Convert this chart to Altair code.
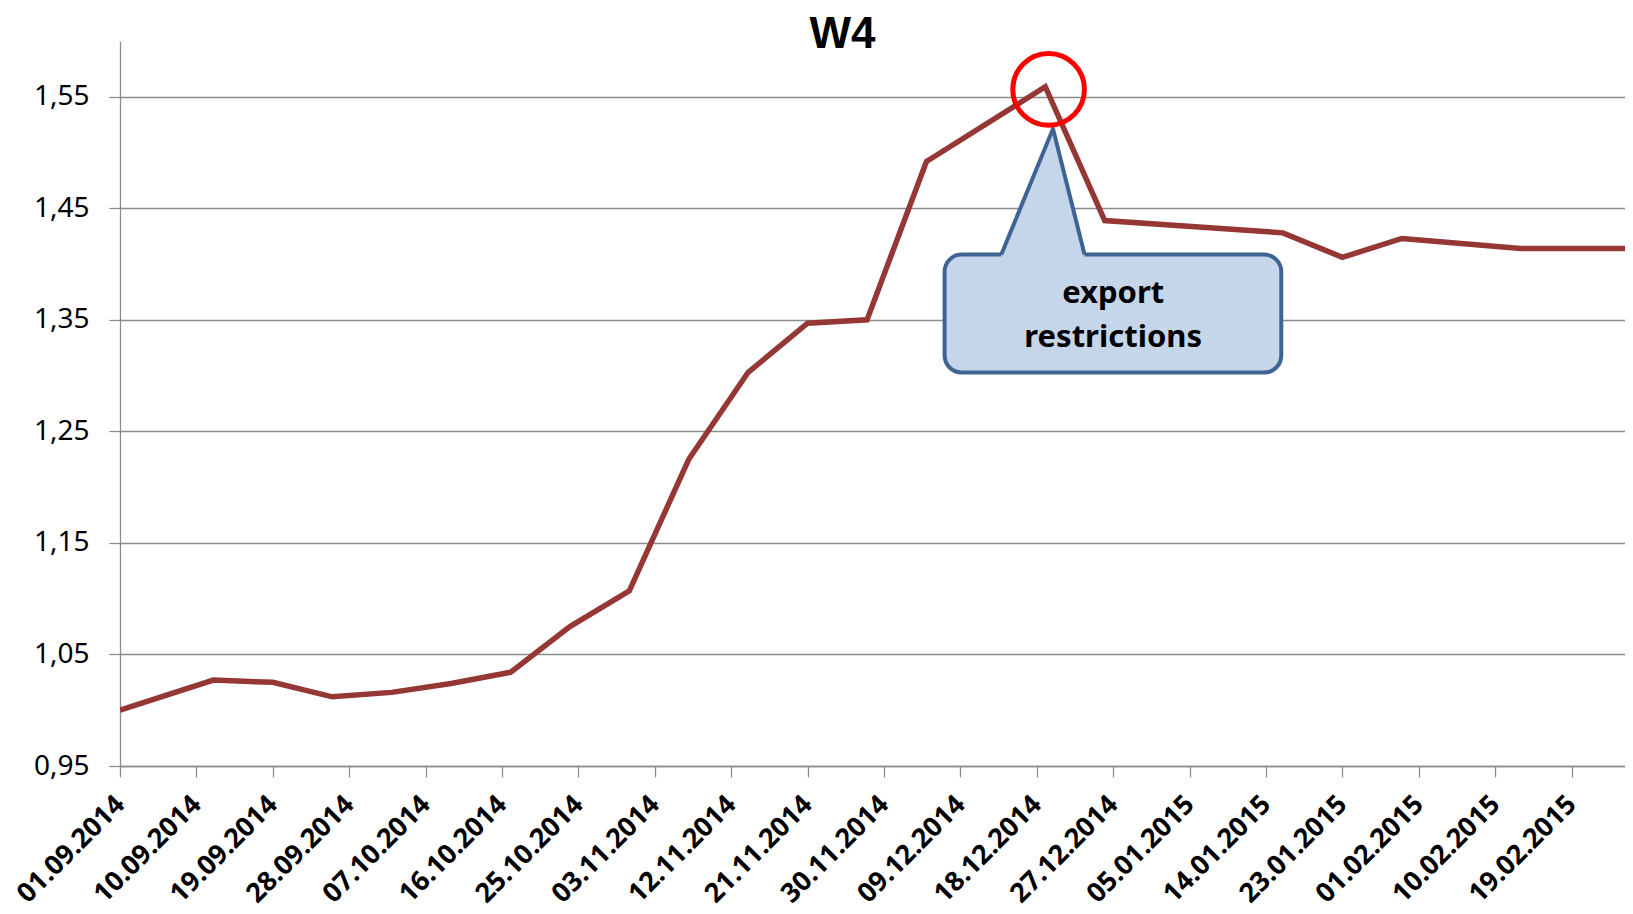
import altair as alt
import pandas as pd

# ---- data ----
dates = ["2014-09-01", "2014-09-12", "2014-09-19", "2014-09-26", "2014-10-03",
         "2014-10-10", "2014-10-17", "2014-10-24", "2014-10-31", "2014-11-07",
         "2014-11-14", "2014-11-21", "2014-11-28", "2014-12-05", "2014-12-19",
         "2014-12-26", "2015-01-16", "2015-01-23", "2015-01-30", "2015-02-13",
         "2015-02-27"]
values = [1.000, 1.027, 1.025, 1.012, 1.016,
          1.024, 1.034, 1.075, 1.107, 1.225,
          1.303, 1.347, 1.350, 1.492, 1.559,
          1.439, 1.428, 1.406, 1.423, 1.414,
          1.414]

tick_dates = ["2014-09-01", "2014-09-10", "2014-09-19", "2014-09-28", "2014-10-07",
              "2014-10-16", "2014-10-25", "2014-11-03", "2014-11-12", "2014-11-21",
              "2014-11-30", "2014-12-09", "2014-12-18", "2014-12-27", "2015-01-05",
              "2015-01-14", "2015-01-23", "2015-02-01", "2015-02-10", "2015-02-19"]
y_ticks = [0.95, 1.05, 1.15, 1.25, 1.35, 1.45, 1.55]

title_text = "W4"
callout_lines = ["export", "restrictions"]

# annotation anchors (data coordinates)
box_x = ["2014-12-07T03:20:00", "2015-01-15T19:12:00"]
box_y = [1.4085, 1.3028]
pointer_x = ["2014-12-13T19:40:00", "2014-12-19T21:50:00", "2014-12-23T15:00:00"]
pointer_y = [1.4085, 1.5213, 1.4085]
text_x = ["2014-12-27T00:00:00", "2014-12-27T00:00:00"]
text_y = [1.3652, 1.3257]
circle_x = ["2014-12-19T09:20:00"]
circle_y = [1.5566]

FONT = "Noto Sans"
LINE_COLOR = "#953735"
GRID = "#8c8c8c"
PLOT_W = 1505
PLOT_H = 725

def ts(s):
    return pd.Timestamp(s).strftime("%Y-%m-%dT%H:%M:%S")

def dt(s):
    t = pd.Timestamp(s)
    return alt.DateTime(year=t.year, month=t.month, date=t.day, hours=t.hour, minutes=t.minute)

df = pd.DataFrame({"date": [ts(d) for d in dates], "value": values})

x_scale = alt.Scale(domain=[dt("2014-09-01"), dt("2015-02-25T07:00")], nice=False)
y_scale = alt.Scale(domain=[0.95, 1.60], nice=False, zero=False)

x_axis = alt.Axis(
    values=[dt(d) for d in tick_dates], format="%d.%m.%Y", title=None,
    labelAngle=-45, labelAlign="right", labelBaseline="middle",
    labelFont=FONT, labelFontSize=27, labelFontWeight="bold", labelColor="black",
    labelPadding=23, tickSize=11, tickColor=GRID, tickWidth=1.3,
    domainColor=GRID, domainWidth=1.3, grid=False, labelOverlap=False,
)
y_axis = alt.Axis(
    values=y_ticks, title=None,
    labelExpr="replace(format(datum.value, '.2f'), '.', ',')",
    labelFont=FONT, labelFontSize=28, labelColor="black", labelPadding=20,
    tickSize=11, tickColor=GRID, tickWidth=1.3,
    domainColor=GRID, domainWidth=1.3,
    grid=True, gridColor=GRID, gridWidth=1.3,
)

line = alt.Chart(df).mark_line(color=LINE_COLOR, strokeWidth=5.5, clip=True).encode(
    x=alt.X("date:T", scale=x_scale, axis=x_axis),
    y=alt.Y("value:Q", scale=y_scale, axis=y_axis),
)

box_df = pd.DataFrame({"x": [ts(box_x[0])], "x2": [ts(box_x[1])],
                       "y": [box_y[0]], "y2": [box_y[1]]})
box = alt.Chart(box_df).mark_rect(
    fill="#c6d6ea", stroke="#3e6494", strokeWidth=4, cornerRadius=17
).encode(x="x:T", x2="x2:T", y="y:Q", y2="y2:Q")

ptr_df = pd.DataFrame({"x": [ts(v) for v in pointer_x], "y": pointer_y,
                       "y2": [pointer_y[0] - 0.004] * 3, "o": [0, 1, 2]})
ptr_fill = alt.Chart(ptr_df).mark_area(fill="#c6d6ea", opacity=1, stroke=None).encode(
    x="x:T", y="y:Q", y2="y2:Q")
ptr_line = alt.Chart(ptr_df).mark_line(
    color="#3e6494", strokeWidth=4, strokeJoin="miter"
).encode(x="x:T", y="y:Q", order="o:Q")

txt_df = pd.DataFrame({"x": [ts(v) for v in text_x], "y": text_y, "t": callout_lines})
txt = alt.Chart(txt_df).mark_text(
    font=FONT, fontSize=31, fontWeight="bold", color="black",
    align="center", baseline="alphabetic"
).encode(x="x:T", y="y:Q", text="t:N")

circ_df = pd.DataFrame({"x": [ts(v) for v in circle_x], "y": circle_y})
circ = alt.Chart(circ_df).mark_point(
    shape="circle", filled=False, stroke="red", strokeWidth=5, size=5130, opacity=1
).encode(x="x:T", y="y:Q")

title_df = pd.DataFrame({"t": [title_text]})
title = alt.Chart(title_df).mark_text(
    font="Liberation Sans", fontSize=44, fontWeight="bold", color="black",
    align="center", baseline="alphabetic"
).encode(x=alt.value(722.5), y=alt.value(7), text="t:N")

chart = alt.layer(line, box, ptr_fill, ptr_line, txt, circ, title).properties(
    width=PLOT_W, height=PLOT_H,
    background="white",
    autosize=alt.AutoSizeParams(type="none"),
    padding={"left": 112, "top": 33, "right": 0, "bottom": 145},
).configure_view(stroke=None)

chart.save("out.html", embed_options={"renderer": "svg", "actions": False})
